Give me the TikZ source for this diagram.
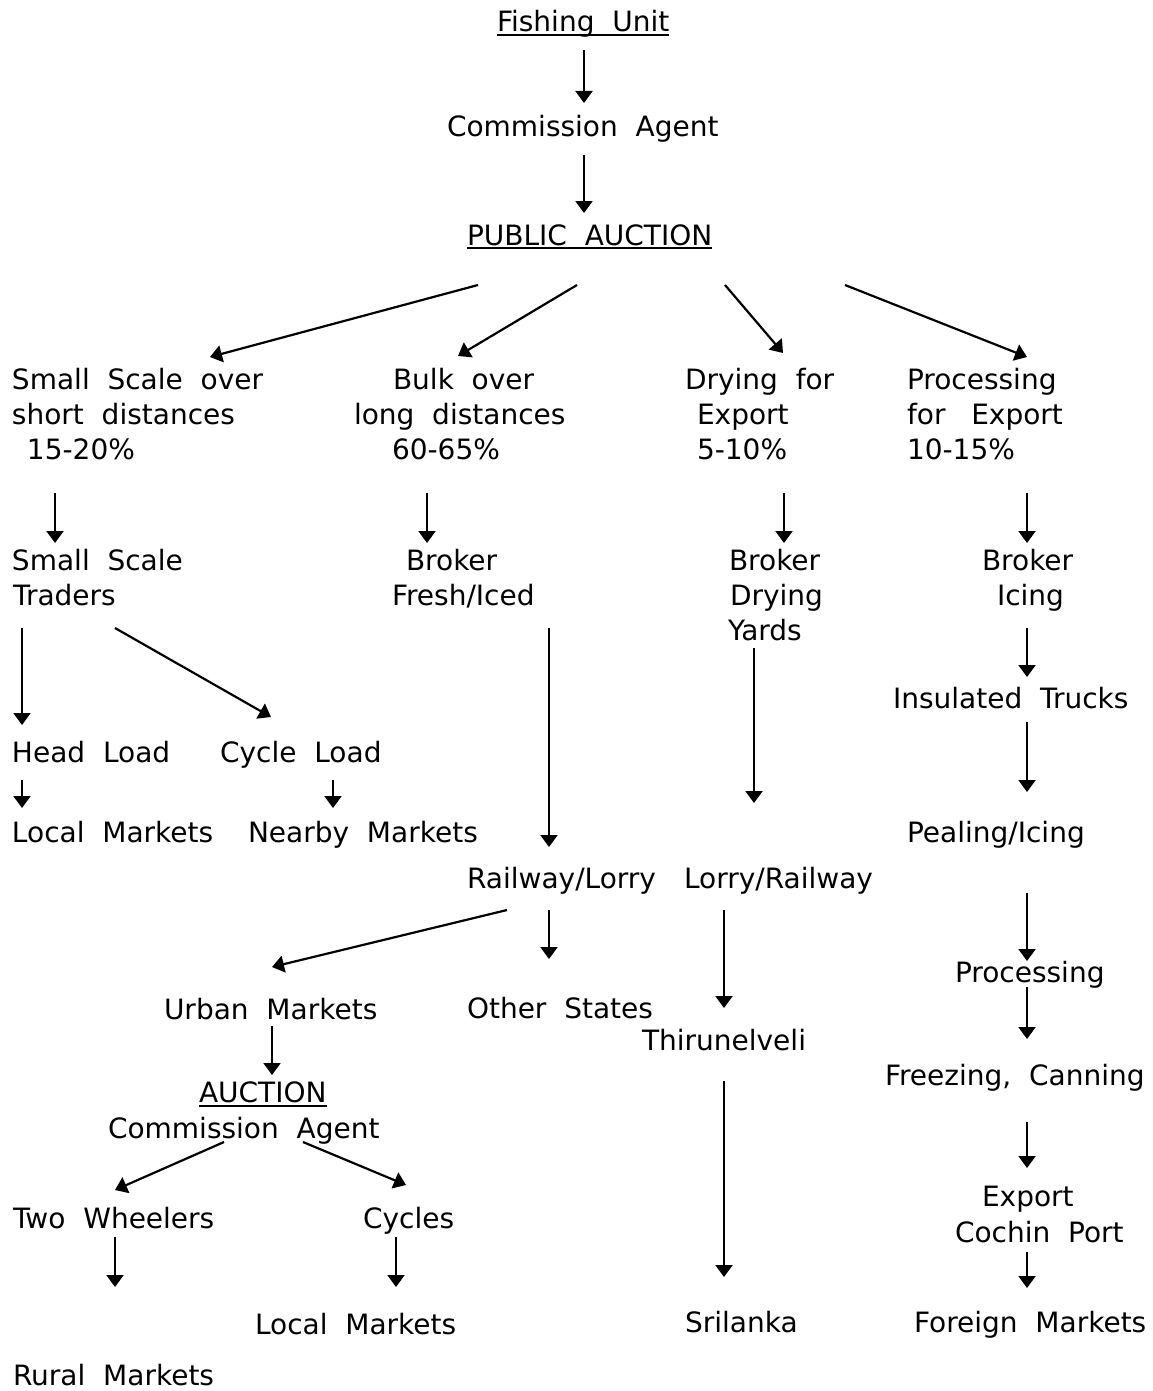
\documentclass[tikz,border=0pt]{standalone}
\usepackage{fontspec}
\setmainfont{DejaVu Sans}[WordSpace=2]
\usetikzlibrary{arrows.meta}
\tikzset{
  lbl/.style={anchor=base west, inner sep=0pt, outer sep=0pt, font=\fontsize{28}{34}\selectfont},
  arr/.style={line width=2.2pt, -{Triangle[length=12pt,width=17pt]}},
  uline/.style={line width=2pt}
}
\begin{document}
\begin{tikzpicture}[x=1pt,y=-1pt]
\useasboundingbox (0,0) rectangle (1152,1391);
% ---- top ----
\node[lbl] (fish) at (497,32) {Fishing Unit};
\node[lbl] (ca) at (447,137) {Commission Agent};
\node[lbl] (pa) at (467,245) {PUBLIC AUCTION};
% ---- four branches ----
\node[lbl] (ss1) at (12,389) {Small Scale over};
\node[lbl] (ss2) at (12,424) {short distances};
\node[lbl] (ss3) at (27,459) {15-20\%};
\node[lbl] (bk1) at (393,389) {Bulk over};
\node[lbl] (bk2) at (354,424) {long distances};
\node[lbl] (bk3) at (392,459) {60-65\%};
\node[lbl] (dr1) at (685,389) {Drying for};
\node[lbl] (dr2) at (697,424) {Export};
\node[lbl] (dr3) at (697,459) {5-10\%};
\node[lbl] (pr1) at (907,389) {Processing};
\node[lbl] (pr2) at (907,424) {for\hspace{8pt} Export};
\node[lbl] (pr3) at (907,459) {10-15\%};
% ---- second level ----
\node[lbl] (st1) at (12,570) {Small Scale};
\node[lbl] (st2) at (13,605) {Traders};
\node[lbl] (bf1) at (406,570) {Broker};
\node[lbl] (bf2) at (392,605) {Fresh/Iced};
\node[lbl] (bd1) at (729,570) {Broker};
\node[lbl] (bd2) at (730,605) {Drying};
\node[lbl] (bd3) at (728,640) {Yards};
\node[lbl] (bi1) at (982,570) {Broker};
\node[lbl] (bi2) at (997,605) {Icing};
\node[lbl] (it) at (893,708) {Insulated Trucks};
\node[lbl] (hl) at (12,762) {Head Load};
\node[lbl] (cl) at (220,762) {Cycle Load};
\node[lbl] (lm) at (12,842) {Local Markets};
\node[lbl] (nm) at (248,842) {Nearby Markets};
\node[lbl] (pi) at (907,842) {Pealing/Icing};
\node[lbl] (rl) at (467,888) {Railway/Lorry};
\node[lbl] (lr) at (684,888) {Lorry/Railway};
\node[lbl] (um) at (164,1019) {Urban Markets};
\node[lbl] (os) at (467,1018) {Other States};
\node[lbl] (proc) at (955,982) {Processing};
\node[lbl] (th) at (642,1050) {Thirunelveli};
\node[lbl] (au) at (199,1102) {AUCTION};
\node[lbl] (ca2) at (108,1138) {Commission Agent};
\node[lbl] (fc) at (885,1085) {Freezing, Canning};
\node[lbl] (ex1) at (982,1206) {Export};
\node[lbl] (ex2) at (955,1242) {Cochin Port};
\node[lbl] (tw) at (13,1228) {Two Wheelers};
\node[lbl] (cy) at (363,1228) {Cycles};
\node[lbl] (lm2) at (255,1334) {Local Markets};
\node[lbl] (sr) at (685,1332) {Srilanka};
\node[lbl] (fm) at (914,1332) {Foreign Markets};
\node[lbl] (rm) at (13,1385) {Rural Markets};
% ---- underlines ----
\draw[uline] ([yshift=-3pt]fish.base west) -- ([yshift=-3pt]fish.base east);
\draw[uline] ([yshift=-3pt]pa.base west) -- ([yshift=-3pt]pa.base east);
\draw[uline] ([yshift=-4pt]au.base west) -- ([yshift=-4pt]au.base east);
% ---- arrows ----
\draw[arr] ([shift={(87,18)}]fish.base west) -- ([shift={(137,-34)}]ca.base west);
\draw[arr] ([shift={(137,18)}]ca.base west) -- ([shift={(117,-32)}]pa.base west);
\draw[arr] ([shift={(11,40)}]pa.base west) -- ([shift={(198,-32)}]ss1.base west);
\draw[arr] ([shift={(110,40)}]pa.base west) -- ([shift={(65,-33)}]bk1.base west);
\draw[arr] ([shift={(258,40)}]pa.base west) -- ([shift={(98,-36)}]dr1.base west);
\draw[arr] ([shift={(378,40)}]pa.base west) -- ([shift={(120,-32)}]pr1.base west);
\draw[arr] ([shift={(28,34)}]ss3.base west) -- ([shift={(43,-27)}]st1.base west);
\draw[arr] ([shift={(35,34)}]bk3.base west) -- ([shift={(21,-27)}]bf1.base west);
\draw[arr] ([shift={(87,34)}]dr3.base west) -- ([shift={(55,-27)}]bd1.base west);
\draw[arr] ([shift={(120,34)}]pr3.base west) -- ([shift={(45,-27)}]bi1.base west);
\draw[arr] ([shift={(9,23)}]st2.base west) -- ([shift={(10,-37)}]hl.base west);
\draw[arr] ([shift={(102,23)}]st2.base west) -- ([shift={(51,-45)}]cl.base west);
\draw[arr] ([shift={(10,18)}]hl.base west) -- ([shift={(10,-34)}]lm.base west);
\draw[arr] ([shift={(113,18)}]cl.base west) -- ([shift={(85,-34)}]nm.base west);
\draw[arr] ([shift={(157,23)}]bf2.base west) -- ([shift={(82,-41)}]rl.base west);
\draw[arr] ([shift={(26,8)}]bd3.base west) -- ([shift={(70,-85)}]lr.base west);
\draw[arr] ([shift={(30,23)}]bi2.base west) -- ([shift={(134,-31)}]it.base west);
\draw[arr] ([shift={(134,14)}]it.base west) -- ([shift={(120,-50)}]pi.base west);
\draw[arr] ([shift={(120,51)}]pi.base west) -- ([shift={(72,-21)}]proc.base west);
\draw[arr] ([shift={(72,5)}]proc.base west) -- ([shift={(142,-46)}]fc.base west);
\draw[arr] ([shift={(142,37)}]fc.base west) -- ([shift={(45,-38)}]ex1.base west);
\draw[arr] ([shift={(72,10)}]ex2.base west) -- ([shift={(113,-44)}]fm.base west);
\draw[arr] ([shift={(40,22)}]rl.base west) -- ([shift={(108,-52)}]um.base west);
\draw[arr] ([shift={(82,22)}]rl.base west) -- ([shift={(82,-59)}]os.base west);
\draw[arr] ([shift={(40,22)}]lr.base west) -- ([shift={(82,-42)}]th.base west);
\draw[arr] ([shift={(82,31)}]th.base west) -- ([shift={(39,-55)}]sr.base west);
\draw[arr] ([shift={(108,7)}]um.base west) -- ([shift={(73,-27)}]au.base west);
\draw[arr] ([shift={(116,4)}]ca2.base west) -- ([shift={(102,-38)}]tw.base west);
\draw[arr] ([shift={(195,4)}]ca2.base west) -- ([shift={(43,-43)}]cy.base west);
\draw[arr] ([shift={(102,9)}]tw.base west) -- ([shift={(102,-98)}]rm.base west);
\draw[arr] ([shift={(33,9)}]cy.base west) -- ([shift={(141,-47)}]lm2.base west);
\end{tikzpicture}
\end{document}
